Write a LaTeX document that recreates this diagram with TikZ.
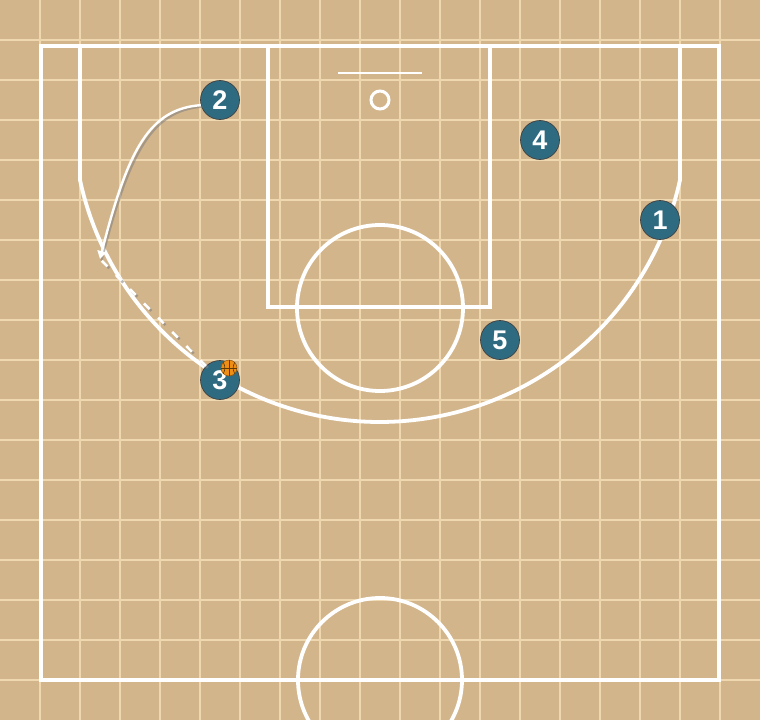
\documentclass[tikz,border=0pt]{standalone}
\usepackage{fontspec}
\setmainfont{Liberation Sans}
\usetikzlibrary{arrows.meta}
\definecolor{court}{HTML}{D3B58C}
\definecolor{gridc}{HTML}{EFD8B0}
\definecolor{player}{HTML}{2F6B80}
\definecolor{ballc}{HTML}{EE8E14}
\begin{document}
\begin{tikzpicture}[x=1pt,y=-1pt,
  courtline/.style={white, line width=3.8pt},
  gridline/.style={gridc, line width=1.6pt},
  playerdot/.style={circle, fill=player, draw=black!75, line width=0.7pt, minimum size=39pt, inner sep=0pt, text=white, font=\fontsize{27}{27}\selectfont\bfseries},
  shadowline/.style={black!50, line width=2.2pt, opacity=0.55},
  moveline/.style={white, line width=2.4pt},
  passline/.style={white, line width=2.6pt, dash pattern=on 8pt off 12pt},
  balldot/.style={circle, fill=ballc, draw=ballc!60!black, line width=0.5pt, minimum size=16pt, inner sep=0pt},
  ballseam/.style={ballc!40!black, line width=0.6pt}
  ]
\fill[court] (0,0) rectangle (760,720);
\useasboundingbox (0,0) rectangle (760,720);
\clip (0,0) rectangle (760,720);
\foreach \x in {40,80,...,720} \draw[gridline] (\x,0) -- (\x,720);
\foreach \y in {40,80,...,680} \draw[gridline] (0,\y) -- (760,\y);
% court
\draw[courtline] (41,46) rectangle (719,680);
\draw[courtline] (268,46) rectangle (490,307);
\draw[courtline] (380,308) circle[radius=83];
\draw[courtline] (380,680) circle[radius=82];
\draw[courtline] (80,46) -- (80,180) arc[start angle=167.77, end angle=12.23, radius=306.96] -- (680,46);
\draw[white, line width=2.2pt] (338,73) -- (422,73);
\draw[white, line width=3pt] (380,100) circle[radius=9];
% players
\node[playerdot] (p1) at (660,220) {1};
\node[playerdot] (p2) at (220,100) {2};
\node[playerdot] (p3) at (220,380) {3};
\node[playerdot] (p4) at (540,140) {4};
\node[playerdot] (p5) at (500,340) {5};
\coordinate (cutend) at (100,259);
% cut of player 2
\draw[shadowline] ([shift={(1.5,1.5)}]p2.195) .. controls (152,111) and (130,150) .. ([shift={(1.5,1.5)}]cutend);
\draw[moveline, -{Triangle[length=8pt,width=9pt]}] (p2.195) .. controls (150,109) and (128,148) .. (cutend);
% pass from player 3
\draw[shadowline, line width=2.6pt, dash pattern=on 8pt off 12pt] ([shift={(1.8,1.8)}]p3.135) -- ([shift={(1.8,1.8)}]cutend);
\draw[passline] (p3.135) -- (cutend);
% ball
\node[balldot] (ball) at (229,368) {};
\draw[ballseam] (ball.north) -- (ball.south);
\draw[ballseam] (ball.west) -- (ball.east);
\draw[ballseam] (ball.north west) to[bend left=30] (ball.south west);
\draw[ballseam] (ball.north east) to[bend right=30] (ball.south east);
\end{tikzpicture}
\end{document}
